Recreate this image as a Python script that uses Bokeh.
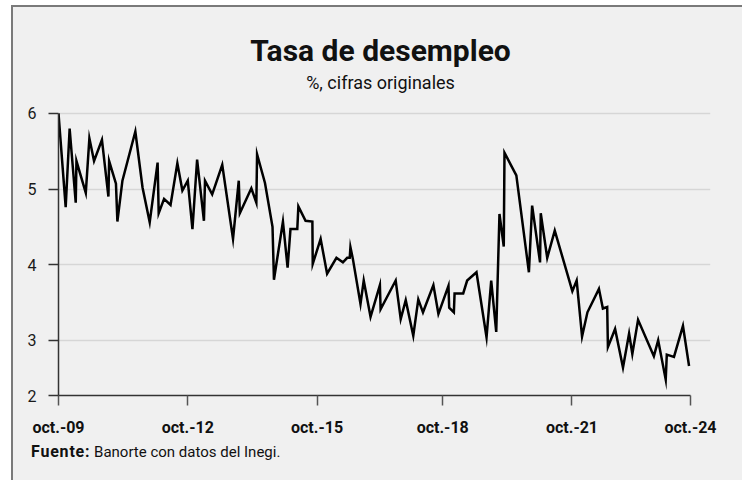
from bokeh.plotting import figure
from bokeh.layouts import column
from bokeh.models import FixedTicker, CustomJSTickFormatter, Label, Div
from bokeh.embed import file_html
from bokeh.resources import INLINE

# Category position (monthly index from oct-09) and unemployment rate (%)
mes_idx = [0, 2.0, 3.1, 4.8, 5.0, 7.6, 8.6, 9.9, 12.1, 13.9,
           14.1, 16.0, 16.4, 17.8, 21.4, 23.4, 25.4, 27.6, 27.9, 29.4,
           31.2, 33.1, 34.5, 36.0, 37.3, 38.6, 40.5, 40.8, 42.8, 45.6,
           48.6, 50.2, 50.5, 53.7, 55.1, 55.3, 57.5, 59.6, 60.0, 62.5,
           63.8, 64.6, 66.5, 66.8, 68.8, 70.7, 70.8, 73.0, 74.8, 77.4,
           79.2, 80.4, 81.1, 81.3, 82.0, 84.1, 85.0, 86.9, 89.5, 89.7,
           93.9, 95.3, 96.7, 98.8, 100.2, 101.5, 104.4, 105.8, 108.6, 108.8,
           110.1, 110.3, 112.7, 113.8, 116.4, 119.2, 120.5, 121.9, 122.8, 124.0,
           124.2, 127.5, 131.0, 131.9, 134.1, 134.3, 136.1, 138.2, 143.1, 144.3,
           145.8, 147.3, 150.5, 151.6, 152.8, 153.0, 155.0, 157.2, 158.9, 159.8,
           161.4, 165.8, 167.0, 169.1, 169.4, 171.4, 173.9, 175.6]
tasa = [6.00, 4.76, 5.80, 4.82, 5.37, 4.95, 5.67, 5.37, 5.65, 4.90,
        5.37, 5.07, 4.57, 5.11, 5.76, 5.02, 4.56, 5.35, 4.68, 4.87,
        4.79, 5.34, 4.98, 5.11, 4.47, 5.39, 4.58, 5.11, 4.93, 5.32,
        4.34, 5.11, 4.68, 5.01, 4.82, 5.46, 5.08, 4.50, 3.80, 4.57,
        3.96, 4.47, 4.47, 4.77, 4.58, 4.57, 4.01, 4.34, 3.88, 4.09,
        4.03, 4.09, 4.09, 4.23, 4.07, 3.48, 3.79, 3.31, 3.73, 3.41,
        3.79, 3.28, 3.53, 3.06, 3.54, 3.37, 3.73, 3.35, 3.72, 3.43,
        3.37, 3.62, 3.62, 3.79, 3.90, 3.04, 3.79, 3.11, 4.67, 4.24,
        5.48, 5.18, 3.90, 4.78, 4.03, 4.68, 4.09, 4.45, 3.65, 3.79,
        3.05, 3.37, 3.68, 3.42, 3.44, 2.91, 3.15, 2.64, 3.09, 2.82,
        3.27, 2.79, 3.00, 2.48, 2.81, 2.78, 3.19, 2.66]

tick_pos = [0, 36, 72, 107, 143, 176]
tick_labels = ["oct.-09", "oct.-12", "oct.-15", "oct.-18", "oct.-21", "oct.-24"]
y_grid = [3, 4, 5, 6]
y_min = 2.27   # axis floor, labelled "2"
y_max = 6.0

BG = "#f0f0f0"
W, H = 729, 435
p = figure(width=W, height=H, output_backend="svg", toolbar_location=None,
           x_range=(0, 181.57), y_range=(y_min, 7.40),
           min_border_left=45, min_border_right=32,
           min_border_top=0, min_border_bottom=47,
           background_fill_color=BG, border_fill_color=BG)
p.outline_line_color = None

p.xgrid.visible = False
p.ygrid.ticker = FixedTicker(ticks=y_grid)
p.ygrid.grid_line_color = "#d6d6d6"
p.ygrid.grid_line_width = 1.5

# y axis
ya = p.yaxis[0]
ya.ticker = FixedTicker(ticks=[y_min] + y_grid)
ya.formatter = CustomJSTickFormatter(code="return tick < 2.5 ? '2' : tick.toFixed(0);")
ya.bounds = (y_min, y_max)
ya.axis_line_color = "#333333"
ya.axis_line_width = 1.5
ya.major_tick_line_color = "#333333"
ya.major_tick_line_width = 1.5
ya.major_tick_out = 10
ya.major_tick_in = 0
ya.minor_tick_line_color = None
ya.major_label_standoff = 12
ya.major_label_text_font = "Roboto"
ya.major_label_text_font_size = "16px"
ya.major_label_text_color = "#1a1a1a"

# x axis
xa = p.xaxis[0]
xa.ticker = FixedTicker(ticks=tick_pos)
xa.formatter = CustomJSTickFormatter(args=dict(pos=tick_pos, labs=tick_labels),
                                     code="const i = pos.indexOf(tick); return i >= 0 ? labs[i] : '';")
xa.bounds = (tick_pos[0], tick_pos[-1])
xa.axis_line_color = "#333333"
xa.axis_line_width = 1.5
xa.major_tick_line_color = "#555555"
xa.major_tick_line_width = 1.5
xa.major_tick_out = 10
xa.major_tick_in = 0
xa.minor_tick_line_color = None
xa.major_label_standoff = 12
xa.major_label_text_font = "Roboto"
xa.major_label_text_font_style = "bold"
xa.major_label_text_font_size = "16px"
xa.major_label_text_color = "#111111"

p.line(mes_idx, tasa, line_color="black", line_width=2.5, line_join="miter")

p.add_layout(Label(x=322, y=345, x_units="screen", y_units="screen",
                   text="Tasa de desempleo", text_align="center", text_baseline="alphabetic",
                   text_font="Roboto", text_font_style="bold", text_font_size="30px",
                   text_color="#111111"))
p.add_layout(Label(x=322, y=313, x_units="screen", y_units="screen",
                   text="%, cifras originales", text_align="center", text_baseline="alphabetic",
                   text_font="Roboto", text_font_size="18px", text_color="#111111"))

# footer (source note)
footer = Div(
    text=('<div style="padding:0 0 0 18px; font-family:Roboto, sans-serif; font-size:15px; '
          'line-height:20px; color:#111111; white-space:nowrap;">'
          '<b style="font-size:16px; letter-spacing:0.8px;">Fuente:</b> '
          'Banorte con datos del Inegi.</div>'),
    width=W, height=38,
    styles={"background-color": BG, "margin": "0", "padding": "0"})

page = column(p, footer, spacing=0,
              styles={"margin-left": "11px", "margin-top": "5px",
                      "border-left": "2px solid #7a7a7a",
                      "border-top": "2px solid #7a7a7a",
                      "background-color": BG})
open("out.html", "w").write(file_html(page, INLINE))
